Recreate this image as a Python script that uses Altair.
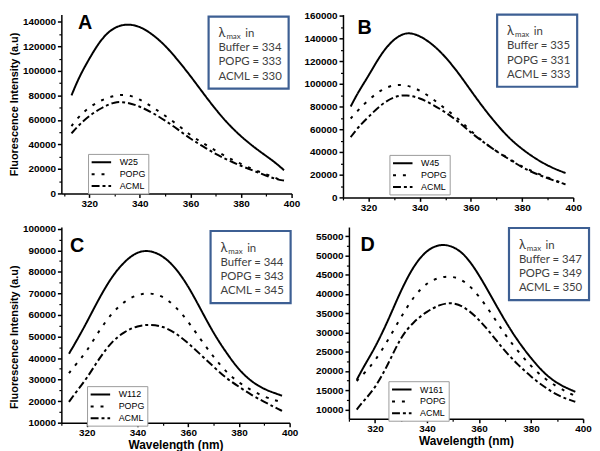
import altair as alt
import pandas as pd

# ---------------- data ----------------
wavelength = [313, 316, 320, 325, 330, 335, 340, 345, 350, 355, 360, 365, 370, 375, 380, 385, 390, 394, 397]

# Panel A
w25    = [80000, 95000, 110000, 127000, 136000, 138500, 136500, 130000, 121000, 109000, 96000, 82000, 68500, 56500, 46500, 38000, 30500, 24500, 19000]
popg_a = [55000, 63000, 70500, 76500, 80000, 81000, 77000, 70500, 63500, 56000, 47500, 41000, 35000, 29000, 24000, 19500, 15500, 12500, 9500]
acml_a = [49000, 56000, 63500, 70000, 75000, 74500, 71000, 66000, 59500, 52500, 44500, 38500, 32000, 27000, 22500, 18500, 14500, 11500, 10500]
# Panel B
w45    = [80000, 93000, 107000, 127000, 140000, 146000, 142500, 135000, 124000, 110000, 94000, 78500, 64500, 52000, 42500, 34500, 28000, 24000, 21500]
popg_b = [69500, 77000, 86000, 95000, 99500, 99000, 94500, 87000, 78000, 69500, 58500, 48500, 40500, 34000, 27000, 22000, 17500, 14000, 12000]
acml_b = [53000, 62000, 71000, 82000, 89000, 90500, 87500, 82000, 75000, 67000, 57000, 48500, 40500, 33500, 26500, 21000, 17000, 13500, 11500]
# Panel C
w112   = [42000, 48000, 56500, 68000, 78000, 85000, 89500, 90000, 87500, 82000, 73500, 62500, 51500, 42500, 34500, 29000, 25500, 23800, 22500]
popg_c = [33000, 37500, 43000, 53000, 61000, 66500, 69500, 70300, 68800, 64000, 57000, 48500, 40500, 33500, 28500, 25000, 22000, 20500, 19500]
acml_c = [19700, 24500, 30500, 40000, 47800, 52400, 55000, 55600, 54800, 51700, 47000, 41500, 36000, 30600, 26700, 22800, 19700, 17200, 15500]
# Panel D
w161   = [17700, 21500, 26000, 33000, 41000, 47500, 51500, 53000, 52500, 50000, 45000, 39000, 33000, 27700, 23300, 19400, 16800, 15500, 14600]
popg_d = [17400, 19500, 22500, 28000, 34000, 39500, 43000, 44400, 44700, 43200, 39500, 34700, 29400, 25100, 21200, 18100, 15900, 14500, 13500]
acml_d = [10000, 12500, 15500, 21600, 29000, 32900, 35500, 37300, 37900, 36400, 33400, 29400, 25100, 21600, 18500, 15900, 13700, 12700, 12000]

letters = ["A", "B", "C", "D"]
series_names = [["W25", "POPG", "ACML"], ["W45", "POPG", "ACML"],
                ["W112", "POPG", "ACML"], ["W161", "POPG", "ACML"]]
series_values = [[w25, popg_a, acml_a], [w45, popg_b, acml_b],
                 [w112, popg_c, acml_c], [w161, popg_d, acml_d]]
lambda_max = [[334, 333, 330], [335, 331, 333], [344, 343, 345], [347, 349, 350]]
box_labels = ["Buffer", "POPG", "ACML"]

x_domains = [[309, 400], [310, 400], [310, 400], [310, 400]]
y_domains = [[0, 146000], [0, 161000], [10000, 100800], [7600, 57400]]
y_major = [list(range(0, 140001, 20000)), list(range(0, 160001, 20000)),
           list(range(10000, 100001, 10000)), list(range(10000, 55001, 5000))]
y_minor = [list(range(10000, 146001, 20000)), list(range(10000, 160001, 20000)),
           list(range(15000, 100001, 10000)), list(range(12500, 57500, 5000))]
x_major = [320, 340, 360, 380, 400]
x_minor = [310, 330, 350, 370, 390]

# ---------------- layout / style ----------------
FONT = "Liberation Sans"
BOX_FONT = "Lato"
BOX_COLOR = "#3d5f93"
TEXT_COLOR = "#404040"
dash_range = [[1, 0], [3, 7], [8, 3, 3, 3]]

sizes = [(233, 181), (233, 185), (231, 198), (237, 194)]
box_pos = [(149, 2), (156, 0), (151, 4), (162, 1)]       # box left/top relative to plot
letter_pos = [(24, 9), (22, 14), (16, 19), (19, 18)]
legend_pos = [(27, 40), (47, 43), (26, 37), (40, 38)]    # x, distance of legend top from bottom
show_ytitle = [True, False, True, False]
show_xtitle = [False, False, True, True]
ytitle_shift = [0, 0, 12, 0]

one = pd.DataFrame({"k": [0]})


def make_panel(i):
    w, h = sizes[i]
    rows = []
    for name, vals in zip(series_names[i], series_values[i]):
        for wl, v in zip(wavelength, vals):
            rows.append({"wl": wl, "val": v, "series": name})
    df = pd.DataFrame(rows)

    xs = alt.Scale(domain=x_domains[i], nice=False, zero=False)
    ys = alt.Scale(domain=y_domains[i], nice=False, zero=False)

    xaxis = alt.Axis(values=x_major, format="d", labelFont=FONT, labelFontWeight="bold",
                     labelFontSize=10, labelColor="black", labelFlush=False, labelOverlap=False,
                     domainColor="black", domainWidth=1.5, tickColor="black", tickWidth=1.5,
                     tickSize=4, labelPadding=1, grid=False, orient="bottom",
                     title="Wavelength (nm)" if show_xtitle[i] else None,
                     titleFont=FONT, titleFontSize=12, titleFontWeight="bold",
                     titleColor="black", titlePadding=2)
    yaxis_kw = dict(values=y_major[i], format="d", labelFont=FONT, labelFontWeight="bold",
                    labelFontSize=10, labelColor="black", labelFlush=False, labelOverlap=False,
                    domainColor="black", domainWidth=1.5, tickColor="black", tickWidth=1.5,
                    tickSize=4, labelPadding=2, grid=False, orient="left",
                    titleFont=FONT, titleFontSize=11, titleFontWeight="bold",
                    titleColor="black", titlePadding=3)
    if show_ytitle[i]:
        yaxis_kw["title"] = "Fluorescence Intensity (a.u)"
        if ytitle_shift[i]:
            yaxis_kw["titleY"] = h / 2 + ytitle_shift[i]
    else:
        yaxis_kw["title"] = None
    yaxis = alt.Axis(**yaxis_kw)

    lx, ly = legend_pos[i]
    legend = alt.Legend(orient="none", legendX=lx, legendY=h - ly, title=None,
                        symbolType="M-1.8,0L1.8,0", symbolSize=120, symbolStrokeWidth=2,
                        symbolStrokeColor="black", symbolFillColor="transparent",
                        symbolOffset=5, labelFont=FONT, labelFontSize=9,
                        labelColor="black", labelOffset=12, padding=2, rowPadding=0,
                        strokeColor="#9a9a9a", fillColor="white")

    lines = alt.Chart(df).mark_line(color="black", strokeWidth=2, interpolate="basis").encode(
        x=alt.X("wl:Q", scale=xs, axis=xaxis),
        y=alt.Y("val:Q", scale=ys, axis=yaxis),
        strokeDash=alt.StrokeDash("series:N", scale=alt.Scale(domain=series_names[i], range=dash_range),
                                  legend=legend),
        detail="series:N",
    )

    minor = alt.Chart(df).mark_line(opacity=0).encode(
        x=alt.X("wl:Q", scale=xs, axis=alt.Axis(values=x_minor, labels=False, domain=False,
                                                  tickSize=2.5, tickWidth=1.2, tickColor="black",
                                                  grid=False, title=None, orient="bottom")),
        y=alt.Y("val:Q", scale=ys, axis=alt.Axis(values=y_minor[i], labels=False, domain=False,
                                                   tickSize=2.5, tickWidth=1.2, tickColor="black",
                                                   grid=False, title=None, orient="left")),
        detail="series:N",
    )

    bx, by = box_pos[i]
    bw, bh = 81, 73
    box = alt.Chart(one).mark_rect(fill="white", stroke=BOX_COLOR, strokeWidth=2.2).encode(
        x=alt.value(bx), x2=alt.value(bx + bw), y=alt.value(by), y2=alt.value(by + bh))

    lam = alt.Chart(one).mark_text(text="λ", font=BOX_FONT, fontSize=13, color=TEXT_COLOR,
                                   align="left", baseline="alphabetic").encode(
        x=alt.value(bx + 10), y=alt.value(by + 21))
    sub = alt.Chart(one).mark_text(text="max", font=BOX_FONT, fontSize=8, color=TEXT_COLOR,
                                   align="left", baseline="alphabetic").encode(
        x=alt.value(bx + 18), y=alt.value(by + 23))
    inn = alt.Chart(one).mark_text(text="in", font=BOX_FONT, fontSize=11.5, color=TEXT_COLOR,
                                   align="left", baseline="alphabetic").encode(
        x=alt.value(bx + 37), y=alt.value(by + 21))
    text_layers = [lam, sub, inn]
    for k, (lab, val) in enumerate(zip(box_labels, lambda_max[i])):
        t = alt.Chart(one).mark_text(text=f"{lab} = {val}", font=BOX_FONT, fontSize=11.5,
                                     color=TEXT_COLOR, align="left", baseline="middle").encode(
            x=alt.value(bx + 10), y=alt.value(by + 32 + 14.5 * k))
        text_layers.append(t)

    lx0, ly0 = letter_pos[i]
    letter = alt.Chart(one).mark_text(text=letters[i], font=FONT, fontSize=20, fontWeight="bold",
                                      color="black", align="center", baseline="middle").encode(
        x=alt.value(lx0), y=alt.value(ly0))

    return alt.layer(lines, minor, box, *text_layers, letter).resolve_axis(
        x="independent", y="independent").properties(width=w, height=h)


pA, pB, pC, pD = [make_panel(i) for i in range(4)]

row1 = alt.hconcat(pA, pB, spacing=52, bounds="flush").resolve_scale(
    x="independent", y="independent", strokeDash="independent").resolve_legend(strokeDash="independent")
row2 = alt.hconcat(pC, pD, spacing=60, bounds="flush").resolve_scale(
    x="independent", y="independent", strokeDash="independent").resolve_legend(strokeDash="independent")

chart = alt.vconcat(row1, row2, spacing=11).resolve_scale(
    x="independent", y="independent", strokeDash="independent").resolve_legend(
    strokeDash="independent").properties(padding=0, background="white").configure_view(stroke=None)

chart.save("out.html", embed_options={"renderer": "svg", "actions": False})
